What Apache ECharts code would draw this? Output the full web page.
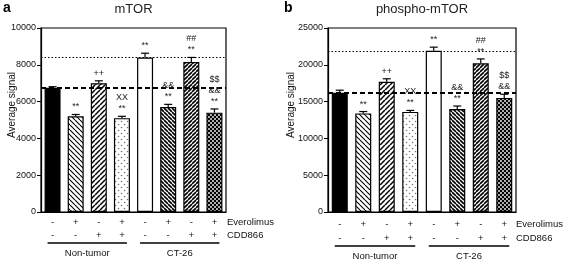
<!DOCTYPE html>
<html>
<head>
<meta charset="utf-8">
<script src="https://cdn.jsdelivr.net/npm/echarts@6/dist/echarts.min.js"></script>
<style>
  html, body { margin: 0; padding: 0; background: #fff; }
  #chart { width: 565px; height: 260px; }
</style>
</head>
<body>
<div id="chart"></div>
<script>
// treatment table under the bars
const categories = ['NT ctrl', 'NT E', 'NT C', 'NT E+C', 'CT ctrl', 'CT E', 'CT C', 'CT E+C']
const everolimus = ['-', '+', '-', '+', '-', '+', '-', '+']
const cdd866 = ['-', '-', '+', '+', '-', '-', '+', '+']
const groups = [['Non-tumor', 0, 3], ['CT-26', 4, 7]]

// panel a: mTOR
const mtorMean = [6750, 5200, 7000, 5100, 8400, 5700, 8150, 5400]
const mtorErr = [60, 100, 130, 100, 230, 150, 250, 200]
const mtorMarks = ['', '**', '++', 'XX\n**', '**', '&&\n**', '##\n**', '$$\n&&\n**']

// panel b: phospho-mTOR
const pmtorMean = [16200, 13400, 17700, 13600, 21900, 14000, 20200, 15500]
const pmtorErr = [350, 250, 400, 200, 500, 400, 600, 500]
const pmtorMarks = ['', '**', '++', 'XX\n**', '**', '&&\n**', '##\n**', '$$\n&&']

const FONT = "'Liberation Sans', Arial, sans-serif"

// fill patterns for the 8 bars
function tile(size, draw) {
  const c = document.createElement('canvas')
  c.width = size
  c.height = size
  draw(c.getContext('2d'), size)
  return { image: c, repeat: 'repeat' }
}
function hatch(size, width, back) {
  return tile(size, (ctx, s) => {
    ctx.fillStyle = '#fff'
    ctx.fillRect(0, 0, s, s)
    ctx.strokeStyle = '#000'
    ctx.lineWidth = width
    for (let k = -1; k <= 1; k++) {
      ctx.beginPath()
      if (back) {
        ctx.moveTo(k * s, 0)
        ctx.lineTo(k * s + s, s)
      } else {
        ctx.moveTo(k * s, s)
        ctx.lineTo(k * s + s, 0)
      }
      ctx.stroke()
    }
  })
}
function dots(size, bg, fg, r) {
  return tile(size, (ctx, s) => {
    ctx.fillStyle = bg
    ctx.fillRect(0, 0, s, s)
    ctx.fillStyle = fg
    ;[[s / 4, s / 4], [3 * s / 4, 3 * s / 4]].forEach(([x, y]) => {
      ctx.beginPath()
      ctx.arc(x, y, r, 0, Math.PI * 2)
      ctx.fill()
    })
  })
}
const fills = [
  '#000',
  hatch(5, 1.1, true),
  hatch(5, 1.5, false),
  dots(6, '#fff', '#777', 0.8),
  '#fff',
  hatch(4, 1.6, true),
  hatch(4, 1.6, false),
  dots(4, '#000', '#fff', 0.9)
]

function barData(values) {
  return values.map((v, i) => ({ value: v, itemStyle: { color: fills[i] } }))
}

function errorSeries(idx, mean, err, marks) {
  return {
    type: 'custom',
    xAxisIndex: idx,
    yAxisIndex: idx,
    z: 5,
    silent: true,
    data: mean.map((m, i) => [i, m, err[i]]),
    encode: { x: 0, y: 1 },
    renderItem(params, api) {
      const i = api.value(0)
      const m = api.value(1)
      const e = api.value(2)
      const base = api.coord([i, m])
      const top = api.coord([i, m + e])
      const st = { stroke: '#000', lineWidth: 1.2 }
      return {
        type: 'group',
        children: [
          { type: 'line', shape: { x1: base[0], y1: base[1], x2: top[0], y2: top[1] }, style: st },
          { type: 'line', shape: { x1: top[0] - 4, y1: top[1], x2: top[0] + 4, y2: top[1] }, style: st },
          {
            type: 'text',
            x: top[0],
            y: top[1] - 2,
            style: {
              text: marks[i],
              fill: '#222',
              fontSize: 9,
              fontFamily: FONT,
              lineHeight: 11,
              align: 'center',
              verticalAlign: 'bottom',
              textAlign: 'center',
              textVerticalAlign: 'bottom'
            }
          }
        ]
      }
    }
  }
}

function barSeries(idx, mean) {
  return {
    type: 'bar',
    xAxisIndex: idx,
    yAxisIndex: idx,
    barWidth: 16,
    data: barData(mean),
    itemStyle: { borderColor: '#000', borderWidth: 1.2 },
    markLine: {
      silent: true,
      symbol: 'none',
      label: { show: false },
      data: [
        { yAxis: mean[0], lineStyle: { color: '#000', type: [5, 3], width: 2 } },
        { yAxis: mean[4], lineStyle: { color: '#000', type: [1.5, 2], width: 1 } }
      ]
    }
  }
}

function xAxis(idx, margin, lineHeight) {
  return {
    type: 'category',
    gridIndex: idx,
    data: categories,
    axisLine: { lineStyle: { color: '#000', width: 1.2 } },
    axisTick: { alignWithLabel: true, length: 3, lineStyle: { color: '#000' } },
    axisLabel: {
      margin: margin,
      color: '#111',
      fontSize: 9.5,
      fontFamily: FONT,
      lineHeight: lineHeight,
      formatter: (v, i) => everolimus[i] + '\n' + cdd866[i]
    }
  }
}

function yAxis(idx, max, interval) {
  return {
    type: 'value',
    gridIndex: idx,
    min: 0,
    max: max,
    interval: interval,
    splitLine: { show: false },
    axisLine: { show: true, lineStyle: { color: '#000', width: 1.2 } },
    axisTick: { show: true, length: 4, lineStyle: { color: '#000' } },
    axisLabel: { color: '#111', fontSize: 9, fontFamily: FONT, margin: 5, formatter: v => String(v) }
  }
}

const chart = echarts.init(document.getElementById('chart'))
chart.setOption({
  animation: false,
  grid: [
    { left: 41, top: 28, width: 185, height: 184, show: true, borderColor: '#000', borderWidth: 1.2 },
    { left: 328, top: 28, width: 188, height: 184, show: true, borderColor: '#000', borderWidth: 1.2 }
  ],
  xAxis: [xAxis(0, 4, 13), xAxis(1, 5, 14)],
  yAxis: [yAxis(0, 10000, 2000), yAxis(1, 25000, 5000)],
  series: [
    barSeries(0, mtorMean),
    errorSeries(0, mtorMean, mtorErr, mtorMarks),
    barSeries(1, pmtorMean),
    errorSeries(1, pmtorMean, pmtorErr, pmtorMarks)
  ]
})

// texts around the plots + group brackets
function text(x, y, str, extra) {
  return {
    type: 'text',
    x: x,
    y: y,
    style: Object.assign({
      text: str,
      fill: '#111',
      fontSize: 9.5,
      fontFamily: FONT,
      textAlign: 'center',
      textVerticalAlign: 'middle'
    }, extra || {})
  }
}

const elements = []
const panels = [
  { idx: 0, letter: 'a', title: 'mTOR', letterX: 3, nameX: 12, labelX: 227, rowY: [222, 235], lineY: 243 },
  { idx: 1, letter: 'b', title: 'phospho-mTOR', letterX: 284, nameX: 291, labelX: 516, rowY: [224, 238], lineY: 246 }
]
panels.forEach(p => {
  const left = chart.convertToPixel({ xAxisIndex: p.idx }, 0) - 11.5
  const right = chart.convertToPixel({ xAxisIndex: p.idx }, 7) + 11.5
  elements.push(text(p.letterX, 8, p.letter, { fontSize: 14, fontWeight: 'bold', textAlign: 'left', fill: '#000' }))
  elements.push(text((left + right) / 2, 9, p.title, { fontSize: 13, fill: '#222' }))
  elements.push(Object.assign(text(p.nameX, 105, 'Average signal', { fontSize: 10 }), { rotation: Math.PI / 2 }))
  elements.push(text(p.labelX, p.rowY[0], 'Everolimus', { textAlign: 'left' }))
  elements.push(text(p.labelX, p.rowY[1], 'CDD866', { textAlign: 'left' }))
  groups.forEach(([name, from, to]) => {
    const x1 = chart.convertToPixel({ xAxisIndex: p.idx }, from) - 5
    const x2 = chart.convertToPixel({ xAxisIndex: p.idx }, to) + 5
    elements.push({ type: 'line', shape: { x1: x1, y1: p.lineY, x2: x2, y2: p.lineY }, style: { stroke: '#000', lineWidth: 1.5 } })
    elements.push(text((x1 + x2) / 2, p.lineY + 10, name))
  })
})
chart.setOption({ graphic: { elements: elements } })
</script>
</body>
</html>
